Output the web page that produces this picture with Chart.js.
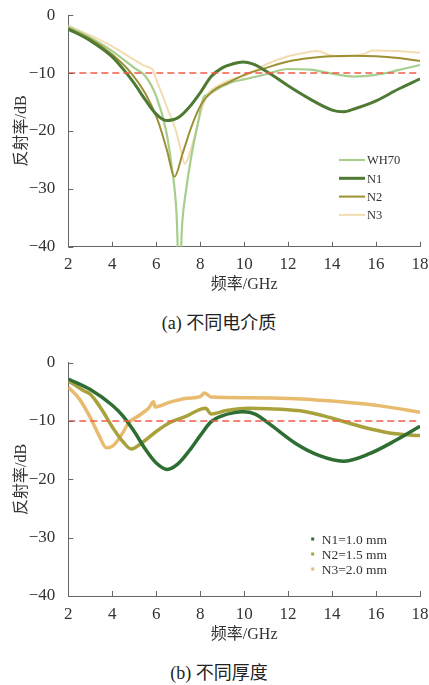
<!DOCTYPE html>
<html>
<head>
<meta charset="utf-8">
<script src="https://cdn.jsdelivr.net/npm/chart.js@4.4.1/dist/chart.umd.min.js"></script>
<style>
  body { margin: 0; background: #fff; }
  #wrap { position: relative; width: 429px; height: 685px; }
  canvas { position: absolute; left: 0; }
  #chartA { top: 0; }
  #chartB { top: 340px; }
  .caption {
    position: absolute; left: 0; width: 438px; text-align: center;
    font-family: "Liberation Serif", "DejaVu Serif", "Noto Sans CJK SC", serif;
    font-size: 18px; color: #222; line-height: 20px;
  }
</style>
</head>
<body>
<div id="wrap">
  <canvas id="chartA" width="429" height="300"></canvas>
  <div class="caption" style="top:313px">(a) 不同电介质</div>
  <canvas id="chartB" width="429" height="305"></canvas>
  <div class="caption" style="top:663px">(b) 不同厚度</div>
</div>
<script>
// ---- (a) different dielectrics ----
const freqWH70 = [2, 3, 4, 5, 5.5, 6, 6.45, 6.7, 6.92, 7.05, 7.18, 7.36, 7.59, 7.89, 8.15, 8.25, 8.6, 9, 9.5, 10, 11, 12, 13, 14, 15, 16, 17, 18];
const wh70 = [-2.0, -3.9, -6.2, -9.1, -10.5, -14.0, -20.0, -26.0, -34.0, -46.0, -36.0, -30.2, -24.5, -18.8, -14.2, -13.9, -13.2, -12.3, -11.5, -11.1, -10.2, -9.3, -9.4, -10.1, -10.6, -10.3, -9.5, -8.6];

const freqN1a = [2, 3, 4, 4.6, 5, 5.5, 6, 6.45, 7, 7.5, 8, 8.5, 9, 9.5, 9.95, 10.5, 11, 11.5, 12, 13, 14, 14.5, 15, 16, 17, 18];
const n1a = [-2.4, -4.4, -7.2, -9.8, -11.8, -14.6, -17.1, -18.2, -17.7, -15.9, -13.4, -10.6, -9.1, -8.4, -8.1, -8.6, -9.7, -10.9, -12.2, -14.5, -16.4, -16.7, -16.2, -14.8, -12.8, -11.0];

const freqN2a = [2, 3, 4, 4.86, 5.5, 6, 6.23, 6.5, 6.83, 7.2, 7.59, 8.05, 8.57, 9.2, 10, 11, 12, 13, 14, 15, 16, 17, 18];
const n2a = [-2.3, -4.1, -6.8, -10.0, -13.5, -17.5, -20.0, -23.5, -27.9, -23.9, -19.4, -15.4, -13.1, -11.8, -10.3, -9.1, -8.0, -7.4, -7.1, -7.0, -7.1, -7.4, -7.9];

const freqN3a = [2, 3, 4, 5, 5.5, 5.85, 5.95, 6.2, 6.5, 6.9, 7.1, 7.3, 7.55, 7.82, 8.05, 8.3, 8.9, 9.5, 10, 11, 12, 12.6, 13.3, 14, 14.8, 15.4, 15.85, 17, 18];
const n3a = [-1.8, -3.5, -5.4, -7.7, -8.8, -9.4, -10.6, -13.0, -16.0, -20.0, -23.0, -25.7, -23.5, -19.9, -16.5, -13.9, -12.0, -11.0, -10.5, -8.5, -7.1, -6.6, -6.2, -7.0, -7.1, -6.8, -6.1, -6.2, -6.5];

// ---- (b) different thickness ----
const freqN1b = [2, 3, 4, 4.5, 5, 5.5, 6, 6.5, 7, 7.5, 8, 8.5, 9, 9.5, 9.95, 10.5, 11.15, 12.36, 13.4, 14.5, 15.7, 16.9, 18];
const n1b = [-2.8, -4.6, -7.3, -9.2, -11.8, -14.8, -17.2, -18.3, -17.3, -15.1, -12.5, -10.1, -9.1, -8.6, -8.4, -8.8, -10.5, -13.9, -15.9, -16.9, -15.6, -13.3, -10.9];

const freqN2b = [2, 2.7, 3.0, 3.3, 3.6, 4.05, 4.5, 4.86, 5.4, 6, 6.6, 7.4, 8.0, 8.25, 8.5, 9.2, 10.2, 11.15, 12.8, 13.9, 14.9, 15.8, 16.9, 18];
const n2b = [-3.1, -4.8, -5.4, -6.8, -8.5, -11.3, -13.6, -14.8, -13.6, -11.8, -10.3, -9.1, -8.0, -7.8, -8.8, -8.2, -7.8, -7.9, -8.4, -9.4, -10.5, -11.4, -12.2, -12.5];

const freqN3b = [2, 2.5, 3.0, 3.4, 3.73, 4.05, 4.45, 4.75, 5.2, 5.65, 5.88, 5.95, 6.6, 7.4, 8.0, 8.2, 8.5, 10.2, 12.36, 14.65, 16.2, 18];
const n3b = [-4.2, -6.2, -9.4, -12.5, -14.6, -14.2, -12.2, -10.3, -9.1, -7.8, -6.7, -7.6, -6.8, -6.1, -5.8, -5.2, -5.9, -6.0, -6.2, -6.8, -7.4, -8.5];

const refLevel = -10;
const xTicks = [2, 4, 6, 8, 10, 12, 14, 16, 18];
const yTicks = [0, -10, -20, -30, -40];

const serif = '"Liberation Serif", "DejaVu Serif", "Noto Sans CJK SC", serif';

function pts(xs, ys) {
    return xs.map((x, i) => ({ x: x, y: ys[i] }));
}

function refLine() {
    return {
        label: '', data: [{ x: 2, y: refLevel }, { x: 18, y: refLevel }],
        borderColor: '#f25c48', borderWidth: 1.5, borderDash: [7, 4],
        pointRadius: 0, order: 0
    };
}

function curve(label, xs, ys, color, width, order) {
    return {
        label: label, data: pts(xs, ys), borderColor: color, backgroundColor: color,
        borderWidth: width, pointRadius: 0, cubicInterpolationMode: 'monotone',
        order: order
    };
}

// inward tick marks on both axes
const innerTicks = {
    id: 'innerTicks',
    afterDraw(chart) {
        const ctx = chart.ctx, xs = chart.scales.x, ys = chart.scales.y;
        ctx.save();
        ctx.strokeStyle = '#666';
        ctx.lineWidth = 1;
        ctx.beginPath();
        xs.ticks.forEach(t => {
            const px = Math.round(xs.getPixelForValue(t.value)) + 0.5;
            ctx.moveTo(px, ys.bottom);
            ctx.lineTo(px, ys.bottom - 5);
        });
        ys.ticks.forEach(t => {
            const py = Math.round(ys.getPixelForValue(t.value)) + 0.5;
            ctx.moveTo(xs.left, py);
            ctx.lineTo(xs.left + 5, py);
        });
        ctx.stroke();
        ctx.restore();
    }
};

// legend drawn inside the plot
function innerLegend(x0, y0, step, style, fontSize) {
    return {
        id: 'innerLegend',
        afterDraw(chart) {
            const ctx = chart.ctx;
            ctx.save();
            ctx.font = fontSize + 'px ' + serif;
            ctx.textBaseline = 'middle';
            let row = 0;
            chart.data.datasets.forEach(ds => {
                if (!ds.label) return;
                const y = y0 + row * step;
                ctx.strokeStyle = ds.borderColor;
                ctx.fillStyle = ds.borderColor;
                if (style === 'line') {
                    ctx.lineWidth = ds.borderWidth;
                    ctx.beginPath();
                    ctx.moveTo(x0, y);
                    ctx.lineTo(x0 + 26, y);
                    ctx.stroke();
                    ctx.fillStyle = '#333';
                    ctx.fillText(ds.label, x0 + 28, y + 1);
                } else {
                    ctx.fillRect(x0 - 1.5, y - 1.5, 3, 3);
                    ctx.fillStyle = '#333';
                    ctx.fillText(ds.label, x0 + 9, y + 1);
                }
                row++;
            });
            ctx.restore();
        }
    };
}

function makeOptions(padTop, xHeight, xTitlePad) {
    return {
        responsive: false,
        animation: false,
        devicePixelRatio: 1,
        layout: { padding: { top: padTop, right: 9, left: 0, bottom: 0 } },
        plugins: { legend: { display: false }, tooltip: { enabled: false } },
        scales: {
            x: {
                type: 'linear', min: 2, max: 18,
                grid: { display: false },
                border: { display: true, color: '#666', width: 1 },
                afterBuildTicks: s => { s.ticks = xTicks.map(v => ({ value: v })); },
                afterFit: s => { s.height = xHeight; },
                ticks: { padding: 0, color: '#333', font: { family: serif, size: 17 }, maxRotation: 0 },
                title: { display: true, text: '频率/GHz', color: '#333',
                         font: { family: serif, size: 16 }, padding: { top: 0, bottom: xTitlePad } }
            },
            y: {
                min: -40, max: 0,
                grid: { display: false },
                border: { display: true, color: '#666', width: 1 },
                afterBuildTicks: s => { s.ticks = yTicks.map(v => ({ value: v })); },
                afterFit: s => { s.width = 68.3; },
                ticks: {
                    padding: 5, color: '#333', font: { family: serif, size: 17 },
                    callback: v => v < 0 ? '\u2212' + Math.abs(v) : String(v)
                },
                title: { display: true, text: '反射率/dB', color: '#333',
                         font: { family: serif, size: 16 }, padding: { top: 12, bottom: 0 } }
            }
        }
    };
}

new Chart(document.getElementById('chartA'), {
    type: 'line',
    data: {
        datasets: [
            refLine(),
            curve('WH70', freqWH70, wh70, '#a6cf8e', 2.2, 3),
            curve('N1', freqN1a, n1a, '#4e7a34', 3, 1),
            curve('N2', freqN2a, n2a, '#9c8f34', 2, 2),
            curve('N3', freqN3a, n3a, '#f4dcb2', 2, 4)
        ]
    },
    options: makeOptions(12.7, 53.3, 6),
    plugins: [innerTicks, innerLegend(339, 160, 18.3, 'line', 12.5)]
});

new Chart(document.getElementById('chartB'), {
    type: 'line',
    data: {
        datasets: [
            refLine(),
            curve('N1=1.0 mm', freqN1b, n1b, '#2e6e32', 3.5, 1),
            curve('N2=1.5 mm', freqN2b, n2b, '#a9a23c', 3.5, 2),
            curve('N3=2.0 mm', freqN3b, n3b, '#e8bb6e', 3.5, 3)
        ]
    },
    options: makeOptions(22.7, 49, 1),
    plugins: [innerTicks, innerLegend(312.7, 199, 15, 'square', 13.5)]
});
</script>
</body>
</html>
